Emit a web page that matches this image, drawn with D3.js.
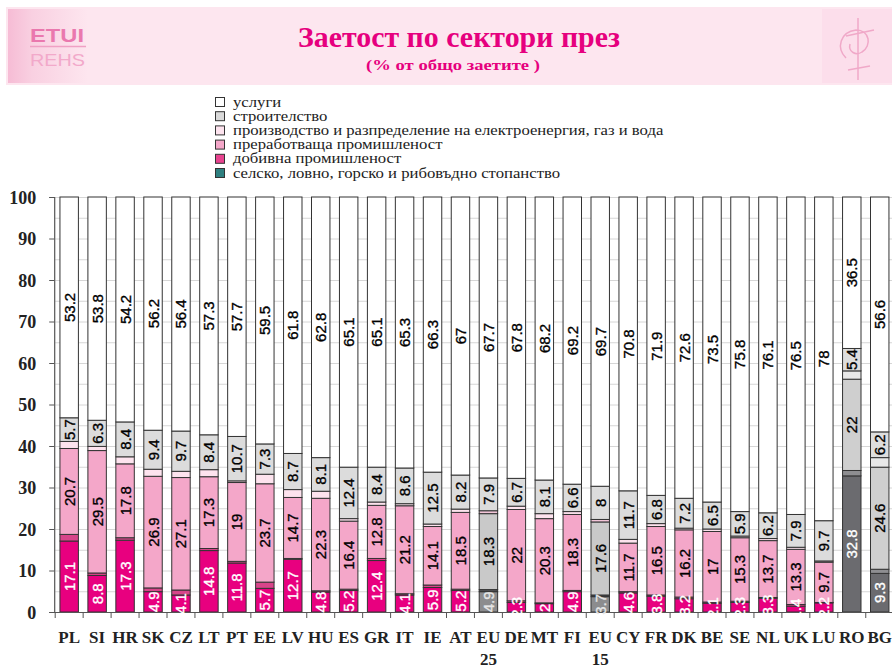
<!DOCTYPE html>
<html>
<head>
<meta charset="utf-8">
<script src="https://cdn.jsdelivr.net/npm/d3@7"></script>
<style>
  html, body { margin: 0; padding: 0; background: #ffffff; }
  svg { display: block; }
</style>
</head>
<body>
<svg id="chart" width="892" height="668"></svg>
<script>
// ---------------- DATA ----------------
const categories = ["PL","SI","HR","SK","CZ","LT","PT","EE","LV","HU","ES","GR","IT","IE","AT","EU 25","DE","MT","FI","EU 15","CY","FR","DK","BE","SE","NL","UK","LU","RO","BG"];
const agriculture   = [17.1,8.8,17.3,4.9,4.1,14.8,11.8,5.7,12.7,4.8,5.2,12.4,4.1,5.9,5.2,4.9,2.3,2,4.9,3.7,4.6,3.8,3.2,2.1,2.3,3.3,1.4,2.2,32.8,9.3];
const mining        = [1.6,0.6,0.6,0.9,1.2,0.5,0.4,1.5,0.2,0.3,0.3,0.5,0.3,0.6,0.3,0.5,0.4,0.2,0.3,0.4,0.3,0.3,0.4,0.3,0.3,0.2,0.4,0.1,1.3,1.0];
const manufacturing = [20.7,29.5,17.8,26.9,27.1,17.3,19,23.7,14.7,22.3,16.4,12.8,21.2,14.1,18.5,18.3,22,20.3,18.3,17.6,11.7,16.5,16.2,17,15.3,13.7,13.3,9.7,22,24.6];
const electricity   = [1.7,1.0,1.7,1.7,1.5,1.7,0.4,2.3,1.9,1.7,0.6,0.8,0.5,0.6,0.8,0.7,0.8,1.2,0.7,0.6,0.9,0.7,0.4,0.6,0.4,0.5,0.5,0.3,2.0,2.3];
const construction  = [5.7,6.3,8.4,9.4,9.7,8.4,10.7,7.3,8.7,8.1,12.4,8.4,8.6,12.5,8.2,7.9,6.7,8.1,6.6,8,11.7,6.8,7.2,6.5,5.9,6.2,7.9,9.7,5.4,6.2];
const services      = [53.2,53.8,54.2,56.2,56.4,57.3,57.7,59.5,61.8,62.8,65.1,65.1,65.3,66.3,67,67.7,67.8,68.2,69.2,69.7,70.8,71.9,72.6,73.5,75.8,76.1,76.5,78,36.5,56.6];

const seriesKeys   = ["agriculture","mining","manufacturing","electricity","construction","services"];
const labelledKeys = ["agriculture","manufacturing","construction","services"];

const legendNames = [
  "услуги",
  "строителство",
  "производство и разпределение на електроенергия, газ и вода",
  "преработваща промишленост",
  "добивна промишленост",
  "селско, ловно,  горско и рибовъдно стопанство"
];
const legendColors = ["#ffffff","#d9d9d9","#fde3ee","#f4a7c9","#e8438f","#2f8080"];

const yTicks = [0,10,20,30,40,50,60,70,80,90,100];
const gridValues = d3.range(0, 101, 5);

const titleText = "Заетост по сектори през";
const subtitleText = "(% от общо заетите )";

// colour palettes as drawn in the bars
const pinkPalette = {agriculture:"#e8007f", mining:"#d8458a", manufacturing:"#f4a7c9", electricity:"#fde3ee", construction:"#dcdcdc", services:"#ffffff"};
const euPalette   = {agriculture:"#8c8c8e", mining:"#555558", manufacturing:"#c9c9c9", electricity:"#f2c5d8", construction:"#dcdcdc", services:"#ffffff"};
const roPalette   = {agriculture:"#6b6b6f", mining:"#8e8e91", manufacturing:"#cfcfcf", electricity:"#e8e8e8", construction:"#dedede", services:"#ffffff"};
const paletteFor = c => (c === "RO" || c === "BG") ? roPalette : (c.startsWith("EU") ? euPalette : pinkPalette);

// ---------------- BUILD ----------------
const rows = categories.map((c, i) => ({
  cat: c,
  agriculture: agriculture[i], mining: mining[i], manufacturing: manufacturing[i],
  electricity: electricity[i], construction: construction[i], services: services[i]
}));
const stacked = d3.stack().keys(seriesKeys)(rows);

const svg = d3.select("#chart");

// Banner
const banner = svg.append("g");
banner.append("rect").attr("x", 6).attr("y", 7).attr("width", 886).attr("height", 78).attr("fill", "#fde6ef");
const lg = svg.append("defs").append("linearGradient").attr("id","logoGrad").attr("x1","0").attr("x2","1");
lg.append("stop").attr("offset","0").attr("stop-color","#f6bcd5");
lg.append("stop").attr("offset","0.3").attr("stop-color","#f9d0e1");
lg.append("stop").attr("offset","1").attr("stop-color","#fde6ef");
banner.append("rect").attr("x", 8).attr("y", 9).attr("width", 80).attr("height", 74).attr("fill", "url(#logoGrad)");
banner.append("text").attr("x", 30).attr("y", 42).attr("font-family","Liberation Sans Narrow, Liberation Sans, Arial, sans-serif")
  .attr("font-size", 19).attr("font-weight","bold").attr("fill", "#ea78ae")
  .attr("textLength", 54).attr("lengthAdjust","spacingAndGlyphs").text("ETUI");
banner.append("line").attr("x1", 30).attr("x2", 86).attr("y1", 46.5).attr("y2", 46.5).attr("stroke","#f0a0c4").attr("stroke-width",1.5);
banner.append("text").attr("x", 30).attr("y", 66).attr("font-family","Liberation Sans Narrow, Liberation Sans, Arial, sans-serif")
  .attr("font-size", 17).attr("fill", "#f2a9ca")
  .attr("textLength", 55).attr("lengthAdjust","spacingAndGlyphs").text("REHS");
// right logo (faded)
banner.append("rect").attr("x", 822).attr("y", 9).attr("width", 70).attr("height", 74).attr("fill", "#fbd9e7").attr("opacity",0.6);
const rl = banner.append("g").attr("fill","none").attr("stroke","#f0a8c8").attr("stroke-width",1.5);
rl.append("path").attr("d","M846,58 C836,48 840,32 856,30 C870,30 872,46 862,52 C856,56 848,52 850,44");
rl.append("line").attr("x1",858).attr("x2",858).attr("y1",18).attr("y2",80);
rl.append("line").attr("x1",846).attr("x2",874).attr("y1",36).attr("y2",30);
rl.append("line").attr("x1",848).attr("x2",870).attr("y1",70).attr("y2",66);

banner.append("text").attr("x", 459).attr("y", 47).attr("text-anchor","middle")
  .attr("font-family","Liberation Serif, Times New Roman, serif").attr("font-weight","bold")
  .attr("font-size", 29).attr("fill", "#e6007e")
  .attr("textLength", 322).attr("lengthAdjust","spacingAndGlyphs").text(titleText);
banner.append("text").attr("x", 453).attr("y", 70).attr("text-anchor","middle")
  .attr("font-family","Liberation Serif, Times New Roman, serif").attr("font-weight","bold")
  .attr("font-size", 15).attr("fill", "#e6007e")
  .attr("textLength", 174).attr("lengthAdjust","spacingAndGlyphs").text(subtitleText);

// Legend
const legend = svg.append("g");
legendNames.forEach((name, i) => {
  const cy = 102 + i * 14.2;
  legend.append("rect").attr("x", 215.5).attr("y", cy - 4.5).attr("width", 9).attr("height", 9)
    .attr("fill", legendColors[i]).attr("stroke", "#333").attr("stroke-width", 1);
  const t = legend.append("text").attr("x", 233).attr("y", cy + 4.5)
    .attr("font-family","Liberation Serif, Times New Roman, serif").attr("font-size", 14.5)
    .attr("fill", "#222").text(name);
  const w = t.node().getComputedTextLength();
  t.attr("textLength", w * 1.15).attr("lengthAdjust", "spacingAndGlyphs");
});

// Scales
const plotLeft = 55.2, plotRight = 893.7, plotTop = 197, plotBottom = 612;
const x = d3.scaleBand().domain(categories).range([plotLeft, plotRight]).paddingInner(0.34).paddingOuter(0.17);
const y = d3.scaleLinear().domain([0, 100]).range([plotBottom, plotTop]);

// Gridlines
svg.append("g").selectAll("line").data(gridValues.filter(v => v > 0)).join("line")
  .attr("x1", plotLeft).attr("x2", 892).attr("y1", d => y(d) + 0.5).attr("y2", d => y(d) + 0.5)
  .attr("stroke", "#d6d6d6").attr("stroke-width", 1);

// Bars
const barsG = svg.append("g");
stacked.forEach(layer => {
  const key = layer.key;
  barsG.append("g").selectAll("rect").data(layer).join("rect")
    .attr("x", d => x(d.data.cat))
    .attr("width", x.bandwidth())
    .attr("y", d => y(d[1]))
    .attr("height", d => y(d[0]) - y(d[1]))
    .attr("fill", d => paletteFor(d.data.cat)[key])
    .attr("stroke", "#333").attr("stroke-width", 1);
});

// Y axis
const yAxis = svg.append("g").attr("transform", `translate(${plotLeft - 1},0)`)
  .call(d3.axisLeft(y).tickValues(yTicks).tickSize(5).tickPadding(13).tickFormat(d3.format("d")));
yAxis.select(".domain").attr("stroke", "#555").attr("stroke-width", 1.2);
yAxis.selectAll(".tick line").attr("stroke", "#555");
yAxis.selectAll("text").attr("font-family","Liberation Serif, Times New Roman, serif")
  .attr("font-weight","bold").attr("font-size", 18).attr("fill", "#222").attr("dy","0.34em");

// X axis (baseline + boundary ticks)
const xAxisG = svg.append("g");
xAxisG.append("line").attr("x1", plotLeft - 1).attr("x2", 892).attr("y1", plotBottom + 0.5).attr("y2", plotBottom + 0.5)
  .attr("stroke", "#555").attr("stroke-width", 1.2);
const boundaries = categories.map(c => x(c) - x.step() * x.paddingInner() / 2);
xAxisG.selectAll("line.tk").data(boundaries).join("line").attr("class","tk")
  .attr("x1", d => d).attr("x2", d => d).attr("y1", plotBottom).attr("y2", plotBottom + 6)
  .attr("stroke", "#555").attr("stroke-width", 1);

// X labels
const xl = xAxisG.selectAll("text.xl").data(categories).join("text").attr("class","xl")
  .attr("x", d => x(d) + x.bandwidth() / 2).attr("y", 643).attr("text-anchor","middle")
  .attr("font-family","Liberation Serif, Times New Roman, serif").attr("font-weight","bold")
  .attr("font-size", 17).attr("fill", "#222");
xl.each(function(d) {
  const parts = d.split(" ");
  const t = d3.select(this);
  parts.forEach((p, i) => t.append("tspan").attr("x", x(d) + x.bandwidth() / 2).attr("dy", i === 0 ? 0 : 22).text(p));
});

// Value labels
const labelsG = svg.append("g");
stacked.filter(l => labelledKeys.includes(l.key)).forEach(layer => {
  const key = layer.key;
  const col = d => key === "agriculture" ? (d.data.cat.startsWith("EU") ? "#e6e6e6" : "#ffffff") : "#000";
  labelsG.append("g").selectAll("text").data(layer).join("text")
    .attr("transform", d => `translate(${x(d.data.cat) + x.bandwidth() / 2 + 5.5},${(y(d[0]) + y(d[1])) / 2}) rotate(-90)`)
    .attr("text-anchor", "middle")
    .attr("font-family","Liberation Sans, Arial, sans-serif").attr("font-size", 15)
    .attr("fill", col).attr("stroke", col).attr("stroke-width", 0.35)
    .text(d => String(d.data[key]));
});
</script>
</body>
</html>
